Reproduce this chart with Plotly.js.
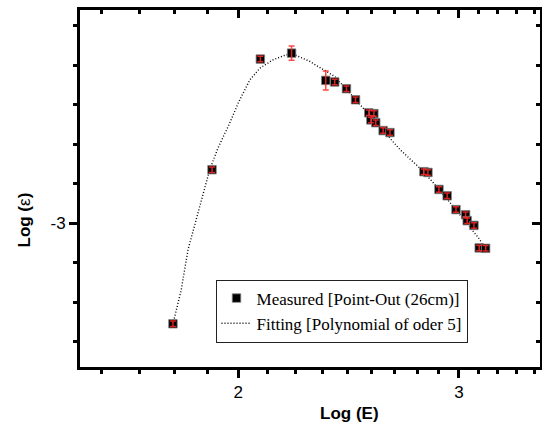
<!DOCTYPE html>
<html><head><meta charset="utf-8">
<script src="https://cdn.plot.ly/plotly-3.0.1.min.js"></script>
<style>html,body{margin:0;padding:0;background:#fff}#chart{width:542px;height:432px}</style>
</head><body><div id="chart"></div>
<script>
// Measured points
var measX = [1.774,1.906,2.083,2.206,2.349,2.388,2.440,2.481,2.542,2.566,2.552,2.575,2.610,2.643,2.813,2.834,2.892,2.936,2.984,3.037,3.046,3.084,3.114,3.151];
var measY = [-3.254,-2.864,-2.584,-2.569,-2.638,-2.642,-2.659,-2.687,-2.720,-2.722,-2.738,-2.745,-2.765,-2.770,-2.869,-2.871,-2.914,-2.930,-2.965,-2.978,-2.993,-3.005,-3.062,-3.063];
var measErr = [0.007,0.007,0.007,0.018,0.024,0.007,0.007,0.007,0.007,0.007,0.007,0.007,0.007,0.007,0.007,0.007,0.007,0.007,0.007,0.007,0.007,0.007,0.007,0.007];
// Polynomial fit curve
var fitX = [1.776,1.801,1.824,1.869,1.898,1.927,1.969,2.000,2.043,2.081,2.132,2.185,2.226,2.281,2.337,2.388,2.455,2.509,2.652,2.692,2.792,2.862,2.960,3.118,3.153];
var fitY = [-3.248,-3.169,-3.066,-2.940,-2.864,-2.809,-2.746,-2.695,-2.637,-2.607,-2.586,-2.573,-2.575,-2.590,-2.611,-2.628,-2.670,-2.704,-2.791,-2.813,-2.860,-2.897,-2.952,-3.041,-3.071];
// Ticks
var xMajor = [2,3];
var xMajorText = ['2','3'];
var xMinor = [1.556,1.667,1.778,1.889,2.111,2.222,2.333,2.444,2.556,2.667,2.778,2.889,3.111,3.222,3.333,3.444];
var yMajor = [-3];
var yMajorText = ['-3'];
var yMinor = [-3.3,-3.2,-3.1,-2.9,-2.8,-2.7,-2.6,-2.5];

var xRange = [Math.log10(1.4955), Math.log10(3.482)];
var yRange = [-3.3634, -2.4598];

var traces = [
  {x: fitX, y: fitY, mode:'lines', name:'Fitting [Polynomial of oder 5]', line:{color:'#000', width:1.4, dash:'1px,2px'}},
  {x: measX, y: measY, mode:'markers', name:'Measured [Point-Out (26cm)]',
   marker:{symbol:'square', size:8.5, color:'#000', line:{color:'rgba(130,130,130,0.8)', width:1}}},
  {x: measX, y: measY, mode:'markers', showlegend:false, hoverinfo:'skip',
   marker:{size:1, color:'rgba(0,0,0,0)'},
   error_y:{type:'data', array: measErr, visible:true, color:'rgba(255,40,40,0.85)', thickness:1.5, width:3}},
  {x: [], y: [], xaxis:'x2', yaxis:'y2', showlegend:false, hoverinfo:'skip'}
];

var axFont = {family:'Liberation Sans, Arial, sans-serif', size:17, color:'#000'};
var layout = {
  width:542, height:432,
  margin:{l:80, r:2, t:10, b:65},
  paper_bgcolor:'#fff', plot_bgcolor:'#fff',
  showlegend:true,
  legend:{x:0.2946, y:0.245, xanchor:'left', yanchor:'top', bgcolor:'#fff',
    bordercolor:'#222', borderwidth:1, traceorder:'reversed',
    font:{family:'Liberation Serif, Times New Roman, serif', size:17, color:'#000'},
    tracegroupgap:0},
  xaxis:{type:'log', range:xRange, tickmode:'array', tickvals:xMajor, ticktext:xMajorText,
    ticks:'outside', ticklen:8, tickwidth:3, tickcolor:'#000',
    showline:true, linewidth:3, linecolor:'#000', mirror:true, showgrid:false, zeroline:false,
    tickfont:axFont,
    minor:{tickmode:'array', tickvals:xMinor, ticks:'outside', ticklen:4, tickwidth:3, tickcolor:'#000', showgrid:false}},
  yaxis:{range:yRange, tickmode:'array', tickvals:yMajor, ticktext:yMajorText,
    ticks:'outside', ticklen:8, tickwidth:3, tickcolor:'#000',
    showline:true, linewidth:3, linecolor:'#000', mirror:true, showgrid:false, zeroline:false,
    tickfont:axFont,
    minor:{tickmode:'array', tickvals:yMinor, ticks:'outside', ticklen:4, tickwidth:3, tickcolor:'#000', showgrid:false}},
  xaxis2:{type:'log', range:xRange, overlaying:'x', side:'top', anchor:'y2', tickmode:'array', tickvals:xMajor,
    showticklabels:false, ticks:'inside', ticklen:8, tickwidth:3, tickcolor:'#000',
    showline:false, showgrid:false, zeroline:false,
    minor:{tickmode:'array', tickvals:xMinor, ticks:'inside', ticklen:4, tickwidth:3, tickcolor:'#000', showgrid:false}},
  yaxis2:{range:yRange, overlaying:'y', side:'right', anchor:'x2', tickmode:'array', tickvals:yMajor,
    showticklabels:false, ticks:'inside', ticklen:8, tickwidth:3, tickcolor:'#000',
    showline:false, showgrid:false, zeroline:false,
    minor:{tickmode:'array', tickvals:yMinor, ticks:'inside', ticklen:4, tickwidth:3, tickcolor:'#000', showgrid:false}},
  annotations:[
    {text:'<b>Log (E)</b>', xref:'paper', yref:'paper', x:0.585, y:-0.13, xanchor:'center', yanchor:'middle',
     showarrow:false, font:{family:'Liberation Sans, Arial, sans-serif', size:17, color:'#000'}},
    {text:'<b>Log (</b>ε<b>)</b>', xref:'paper', yref:'paper', x:-0.12, y:0.4126, xanchor:'center', yanchor:'middle',
     textangle:-90, showarrow:false, font:{family:'Liberation Sans, Arial, sans-serif', size:17, color:'#000'}}
  ]
};
Plotly.newPlot('chart', traces, layout, {displayModeBar:false, staticPlot:true});
</script></body></html>
